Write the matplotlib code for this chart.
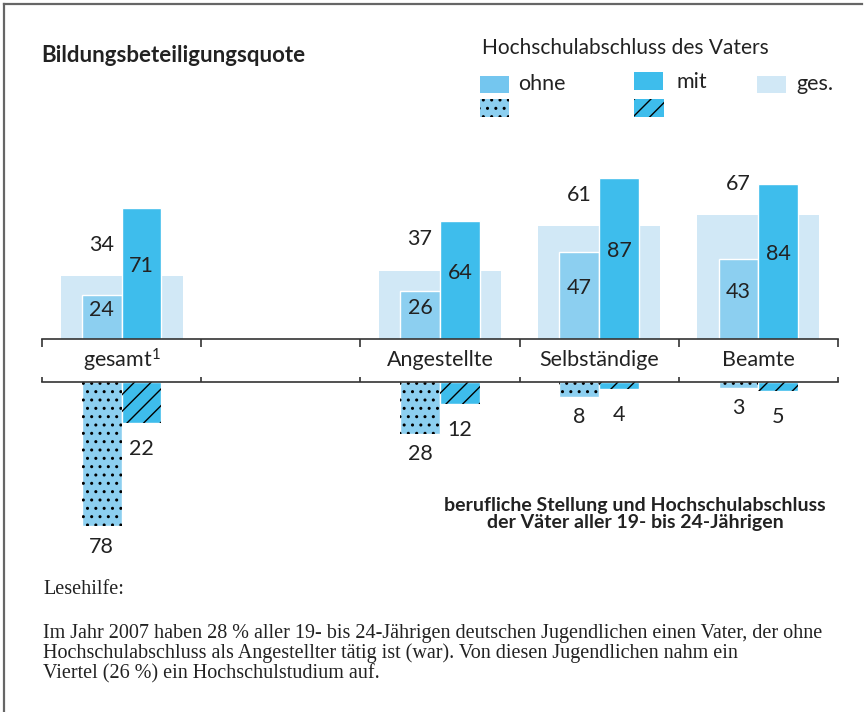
import matplotlib
matplotlib.use("Agg")
import matplotlib.pyplot as plt
from matplotlib.patches import Rectangle
import numpy as np

# data
categories = ["gesamt$^{1}$", "", "Angestellte", "Selbständige", "Beamte"]
groups_with_data = [0, 2, 3, 4]
quote_ohne = [24, 26, 47, 43]
quote_mit = [71, 64, 87, 84]
quote_ges = [34, 37, 61, 67]
anteil_ohne = [78, 28, 8, 3]
anteil_mit = [22, 12, 4, 5]

C_OHNE = "#8ccff0"
C_MIT = "#3ebdec"
C_GES = "#d1e8f6"
TXT = "#222222"
LINE = "#333333"
FS = 15.5

plt.rcParams["font.family"] = ["Lato", "DejaVu Sans"]
plt.rcParams["mathtext.default"] = "regular"
plt.rcParams["hatch.linewidth"] = 1.0

W, H = 866, 712
fig = plt.figure(figsize=(W / 100, H / 100), dpi=100)


def box(left, top, right, bottom):
    return [left / W, 1 - bottom / H, (right - left) / W, (bottom - top) / H]


ax_top = fig.add_axes(box(42, 154, 838, 339))
ax_bot = fig.add_axes(box(42, 382, 838, 567))

pos = np.array(groups_with_data) + 0.5
bw = 0.25

# upper part: Bildungsbeteiligungsquote
ax_top.bar(pos, quote_ges, width=0.766, color=C_GES, linewidth=0)
ax_top.bar(pos - bw / 2, quote_ohne, width=bw, color=C_OHNE, edgecolor="white", linewidth=1)
ax_top.bar(pos + bw / 2, quote_mit, width=bw, color=C_MIT, edgecolor="white", linewidth=1)

for x, g, o, m in zip(pos, quote_ges, quote_ohne, quote_mit):
    ax_top.text(x - bw / 2, g + 17, str(g), ha="center", va="center", fontsize=FS, color=TXT)
    ax_top.text(x - bw / 2, o / 2 + 3.8, str(o), ha="center", va="center", fontsize=FS, color=TXT)
    ax_top.text(x + bw / 2, m / 2 + 3.8, str(m), ha="center", va="center", fontsize=FS, color=TXT)

ax_top.set_xlim(0, 5)
ax_top.set_ylim(0, 100)
ax_top.set_yticks([])
ax_top.set_xticks(range(6))
ax_top.set_xticklabels([])
ax_top.tick_params(axis="x", direction="out", length=5.8, width=1.2, color=LINE)
for s in ["top", "left", "right"]:
    ax_top.spines[s].set_visible(False)
ax_top.spines["bottom"].set_color(LINE)
ax_top.spines["bottom"].set_linewidth(1.2)
ax_top.patch.set_alpha(0)

for i, name in enumerate(categories):
    ax_top.text(i + 0.5, -21 / 185, name, transform=ax_top.get_xaxis_transform(),
                ha="center", va="center", fontsize=FS, color=TXT)

# lower part: Anteil der Väter
neg_ohne = [-v for v in anteil_ohne]
neg_mit = [-v for v in anteil_mit]
ax_bot.bar(pos - bw / 2, neg_ohne, width=bw, color=C_OHNE, edgecolor="white", linewidth=1)
ax_bot.bar(pos + bw / 2, neg_mit, width=bw, color=C_MIT, edgecolor="white", linewidth=1)
ax_bot.bar(pos - bw / 2, neg_ohne, width=bw, facecolor="none", edgecolor="black", linewidth=0, hatch="..")
ax_bot.bar(pos + bw / 2, neg_mit, width=bw, facecolor="none", edgecolor="black", linewidth=0, hatch="//")

for x, o, m in zip(pos, anteil_ohne, anteil_mit):
    ax_bot.text(x - bw / 2, -(o + 11), str(o), ha="center", va="center", fontsize=FS, color=TXT)
    ax_bot.text(x + bw / 2, -(m + 14), str(m), ha="center", va="center", fontsize=FS, color=TXT)

ax_bot.set_xlim(0, 5)
ax_bot.set_ylim(-100, 0)
ax_bot.set_yticks([])
ax_bot.set_xticks(range(6))
ax_bot.set_xticklabels([])
ax_bot.xaxis.set_ticks_position("top")
ax_bot.tick_params(axis="x", direction="out", length=3.6, width=1.2, color=LINE)
for s in ["bottom", "left", "right"]:
    ax_bot.spines[s].set_visible(False)
ax_bot.spines["top"].set_color(LINE)
ax_bot.spines["top"].set_linewidth(1.2)
ax_bot.patch.set_alpha(0)

# frame, titles, legend and notes in pixel coordinates
deco = fig.add_axes([0, 0, 1, 1])
deco.set_xlim(0, W)
deco.set_ylim(H, 0)
deco.axis("off")
deco.patch.set_alpha(0)

deco.plot([4, 862], [4, 4], color="#666666", lw=1.6)
deco.plot([4, 4], [4, H], color="#666666", lw=1.6)

deco.text(41, 62, "Bildungsbeteiligungsquote", fontsize=16, fontweight="bold",
          color=TXT, va="baseline")
deco.text(482, 48, "Hochschulabschluss des Vaters", fontsize=15, color=TXT, va="center")

deco.add_patch(Rectangle((480, 76), 29, 17, color="#74c6ef", lw=0))
deco.add_patch(Rectangle((634, 72), 29, 18, color=C_MIT, lw=0))
deco.add_patch(Rectangle((757, 76), 29, 17, color=C_GES, lw=0))
deco.add_patch(Rectangle((480, 99), 29, 18, facecolor=C_OHNE, lw=0))
deco.add_patch(Rectangle((480, 99), 29, 18, facecolor="none", edgecolor="black", lw=0, hatch=".."))
deco.add_patch(Rectangle((634, 99), 30, 18, facecolor=C_MIT, lw=0))
deco.add_patch(Rectangle((634, 99), 30, 18, facecolor="none", edgecolor="black", lw=0, hatch="//"))
deco.text(518, 84, "ohne", fontsize=FS, color=TXT, va="center")
deco.text(677, 82, "mit", fontsize=FS, color=TXT, va="center")
deco.text(796, 84, "ges.", fontsize=FS, color=TXT, va="center")

deco.text(635, 514, "berufliche Stellung und Hochschulabschluss\nder Väter aller 19- bis 24-Jährigen",
          fontsize=14, fontweight="bold", family=["Liberation Sans Narrow", "Lato"], color=TXT,
          ha="center", va="center", multialignment="center", linespacing=1.05)

serif = ["Liberation Serif", "DejaVu Serif"]
deco.text(43, 590, "Lesehilfe:", fontsize=14.5, family=serif, color=TXT, va="center")
lesehilfe = ("Im Jahr 2007 haben 28 % aller 19- bis 24-Jährigen deutschen Jugendlichen einen Vater, der ohne\n"
             "Hochschulabschluss als Angestellter tätig ist (war). Von diesen Jugendlichen nahm ein\n"
             "Viertel (26 %) ein Hochschulstudium auf.")
deco.text(43, 624, lesehilfe, fontsize=14.5, family=serif, color=TXT, va="top",
          linespacing=1.03)

fig.savefig("out.png", dpi=100)
